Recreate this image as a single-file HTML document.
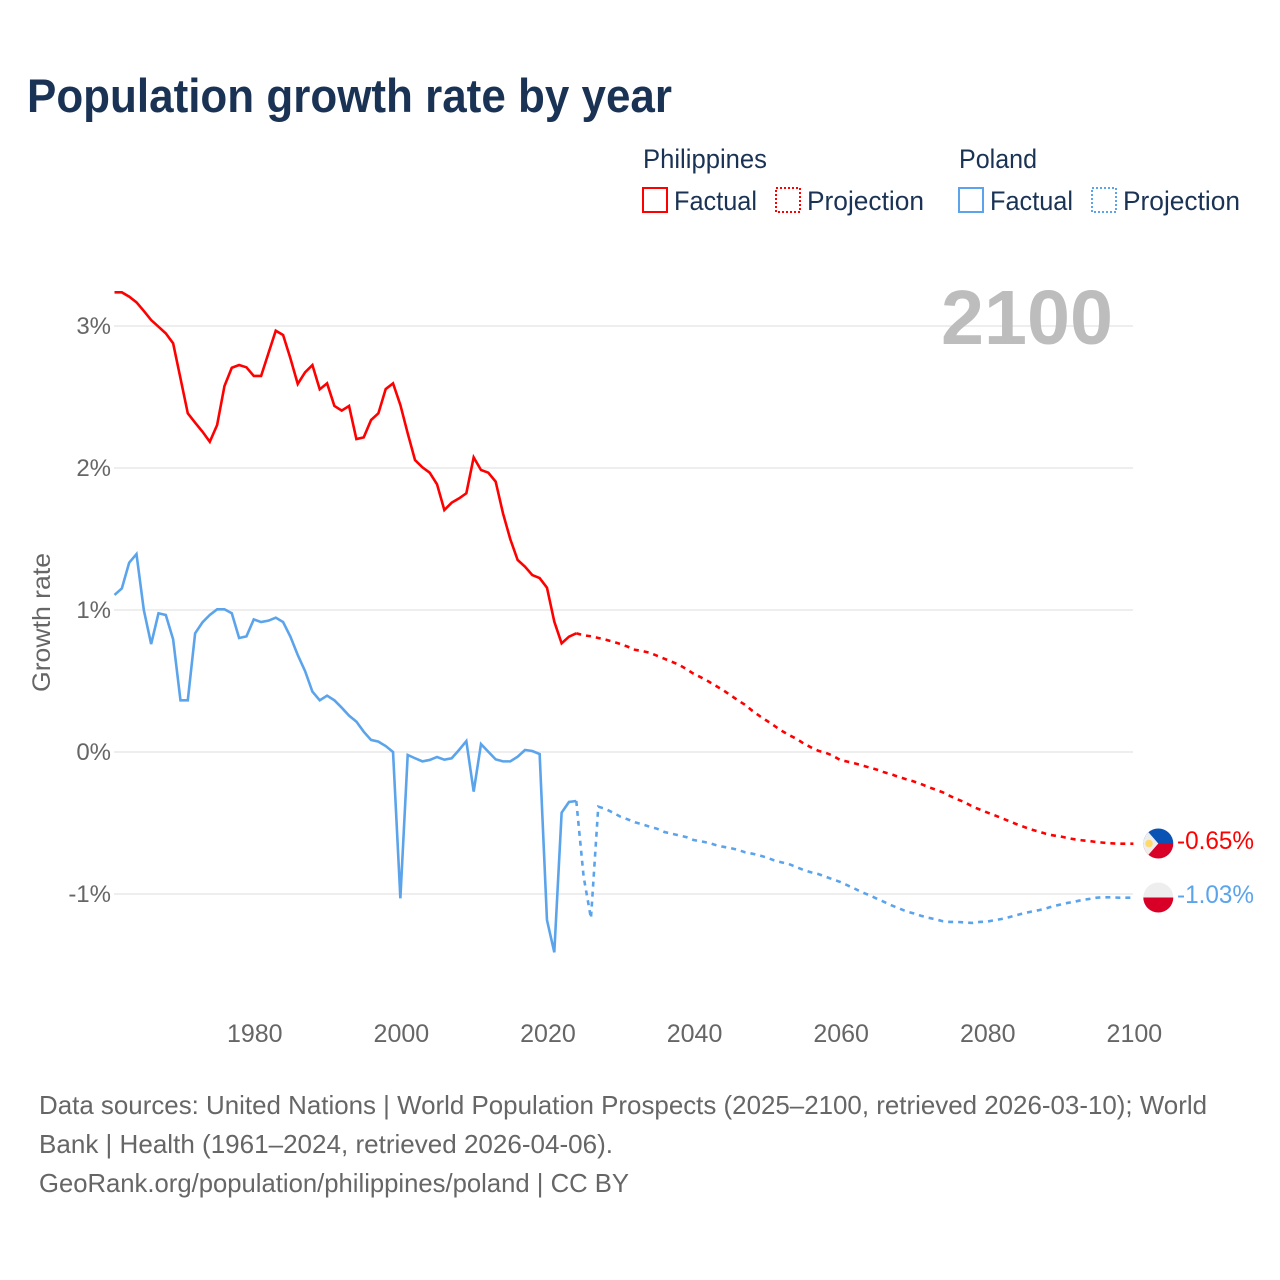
<!DOCTYPE html>
<html lang="en">
<head>
<meta charset="utf-8">
<title>Population growth rate by year</title>
<style>
html,body{margin:0;padding:0;background:#fff;}
svg{display:block;font-family:"Liberation Sans",sans-serif;}
</style>
</head>
<body>
<svg id="chart" width="1280" height="1280" viewBox="0 0 1280 1280" xmlns="http://www.w3.org/2000/svg">
  <rect width="1280" height="1280" fill="#fff"/>
  <text x="27" y="112" font-size="47" font-weight="700" fill="#1a3355" textLength="645" lengthAdjust="spacingAndGlyphs">Population growth rate by year</text>

  <g fill="#1a3355" font-size="27">
    <text x="643" y="168" textLength="124" lengthAdjust="spacingAndGlyphs">Philippines</text>
    <text x="959" y="168" textLength="78" lengthAdjust="spacingAndGlyphs">Poland</text>
    <rect x="643" y="188" width="24" height="24" fill="none" stroke="#ff0000" stroke-width="2"/>
    <text x="674" y="210" textLength="83" lengthAdjust="spacingAndGlyphs">Factual</text>
    <rect x="776" y="188" width="24" height="24" fill="none" stroke="#ff0000" stroke-width="2" stroke-dasharray="2 2"/>
    <text x="807" y="210" textLength="117" lengthAdjust="spacingAndGlyphs">Projection</text>
    <rect x="959" y="188" width="24" height="24" fill="none" stroke="#5ba4ec" stroke-width="2"/>
    <text x="990" y="210" textLength="83" lengthAdjust="spacingAndGlyphs">Factual</text>
    <rect x="1092" y="188" width="24" height="24" fill="none" stroke="#5ba4ec" stroke-width="2" stroke-dasharray="2 2"/>
    <text x="1123" y="210" textLength="117" lengthAdjust="spacingAndGlyphs">Projection</text>
  </g>

  <g id="grid"></g>
  <text x="941" y="344" font-size="77" font-weight="700" fill="#bdbdbd" textLength="172" lengthAdjust="spacingAndGlyphs">2100</text>
  <g id="yticks" font-size="24" fill="#666"></g>
  <g id="xticks" font-size="25" fill="#666"></g>
  <text transform="translate(50,622.500) rotate(-90)" text-anchor="middle" font-size="25" fill="#666" textLength="139" lengthAdjust="spacingAndGlyphs">Growth rate</text>
  <g id="series"></g>

  <g>
    <clipPath id="ph-clip"><circle cx="1158.300" cy="843.500" r="15"/></clipPath>
    <g clip-path="url(#ph-clip)">
      <rect x="1143" y="828" width="31" height="15.500" fill="#0a52b4"/>
      <rect x="1143" y="843.500" width="31" height="16" fill="#d80027"/>
      <polygon points="1143,826 1143,861 1158.300,843.500" fill="#eeeeee"/>
      <circle cx="1149" cy="843.500" r="3.800" fill="#ffda6a"/>
    </g>
  </g>
  <g>
    <clipPath id="pl-clip"><circle cx="1158.300" cy="897.500" r="15"/></clipPath>
    <g clip-path="url(#pl-clip)">
      <rect x="1143" y="882" width="31" height="15.500" fill="#eeeeee"/>
      <rect x="1143" y="897.500" width="31" height="16" fill="#d80027"/>
    </g>
  </g>
  <text x="1177" y="849" font-size="25" fill="#ff0000" textLength="77" lengthAdjust="spacingAndGlyphs">-0.65%</text>
  <text x="1177" y="903" font-size="25" fill="#5ba4ec" textLength="77" lengthAdjust="spacingAndGlyphs">-1.03%</text>

  <g font-size="26" fill="#666">
    <text x="39" y="1114" textLength="1168" lengthAdjust="spacingAndGlyphs">Data sources: United Nations | World Population Prospects (2025–2100, retrieved 2026-03-10); World</text>
    <text x="39" y="1153" textLength="574" lengthAdjust="spacingAndGlyphs">Bank | Health (1961–2024, retrieved 2026-04-06).</text>
    <text x="39" y="1192" textLength="590" lengthAdjust="spacingAndGlyphs">GeoRank.org/population/philippines/poland | CC BY</text>
  </g>
</svg>
<script>
const xTickYears = [1980,2000,2020,2040,2060,2080,2100];
const yTickValues = [3,2,1,0,-1];
const factualStartYear = 1961;
const projectionStartYear = 2024;
const philippinesFactual = [3.237,3.237,3.207,3.167,3.106,3.042,2.995,2.948,2.878,2.632,2.385,2.319,2.256,2.185,2.303,2.577,2.706,2.725,2.709,2.648,2.648,2.808,2.967,2.937,2.772,2.592,2.674,2.725,2.554,2.596,2.437,2.404,2.437,2.204,2.216,2.338,2.385,2.556,2.596,2.444,2.244,2.056,2.005,1.967,1.885,1.704,1.756,1.786,1.822,2.075,1.986,1.967,1.904,1.681,1.498,1.352,1.305,1.246,1.225,1.157,0.918,0.765,0.812,0.836];
const polandFactual = [1.106,1.152,1.333,1.394,1.0,0.76,0.977,0.965,0.793,0.364,0.364,0.836,0.913,0.965,1.005,1.005,0.977,0.803,0.814,0.934,0.915,0.925,0.946,0.915,0.812,0.683,0.57,0.425,0.364,0.397,0.364,0.312,0.256,0.214,0.143,0.085,0.073,0.042,0.0,-1.03,-0.021,-0.044,-0.066,-0.056,-0.035,-0.054,-0.044,0.014,0.077,-0.279,0.056,0.002,-0.052,-0.066,-0.066,-0.033,0.014,0.007,-0.014,-1.183,-1.411,-0.427,-0.352,-0.345];
const philippinesProjection = [0.836,0.822,0.815,0.803,0.791,0.777,0.761,0.742,0.72,0.711,0.699,0.678,0.657,0.636,0.615,0.585,0.551,0.526,0.498,0.467,0.437,0.401,0.366,0.333,0.291,0.254,0.22,0.185,0.15,0.12,0.094,0.061,0.033,0.009,-0.005,-0.026,-0.056,-0.068,-0.08,-0.094,-0.11,-0.124,-0.143,-0.157,-0.176,-0.192,-0.207,-0.225,-0.246,-0.265,-0.284,-0.31,-0.333,-0.354,-0.383,-0.404,-0.425,-0.444,-0.465,-0.486,-0.507,-0.526,-0.545,-0.559,-0.575,-0.587,-0.594,-0.606,-0.615,-0.622,-0.627,-0.634,-0.639,-0.643,-0.646,-0.646,-0.646];
const polandProjection = [-0.345,-0.878,-1.171,-0.385,-0.401,-0.427,-0.455,-0.474,-0.495,-0.509,-0.526,-0.54,-0.563,-0.575,-0.587,-0.599,-0.62,-0.629,-0.639,-0.655,-0.667,-0.676,-0.688,-0.706,-0.716,-0.728,-0.744,-0.763,-0.777,-0.789,-0.81,-0.831,-0.847,-0.859,-0.878,-0.897,-0.915,-0.939,-0.963,-0.988,-1.009,-1.033,-1.056,-1.08,-1.101,-1.122,-1.136,-1.153,-1.167,-1.178,-1.192,-1.197,-1.197,-1.2,-1.204,-1.197,-1.195,-1.185,-1.176,-1.164,-1.15,-1.136,-1.125,-1.115,-1.103,-1.087,-1.075,-1.063,-1.054,-1.042,-1.035,-1.026,-1.023,-1.023,-1.026,-1.026,-1.026];

const NS = 'http://www.w3.org/2000/svg';
function xScale(year){ return 114.5 + (year - 1961) * 7.33; }
function yScale(v){ return 752 - v * 142; }
function pathFor(values, startYear){
  return values.map(function(v,i){
    return (i ? 'L' : 'M') + xScale(startYear + i).toFixed(2) + ' ' + yScale(v).toFixed(2);
  }).join(' ');
}
const gridG = document.getElementById('grid');
const yG = document.getElementById('yticks');
const xG = document.getElementById('xticks');
const seriesG = document.getElementById('series');

yTickValues.forEach(function(v){
  const line = document.createElementNS(NS,'line');
  line.setAttribute('x1', 114);
  line.setAttribute('x2', 1133);
  line.setAttribute('y1', yScale(v));
  line.setAttribute('y2', yScale(v));
  line.setAttribute('stroke', '#eeeeee');
  line.setAttribute('stroke-width', 2);
  
  
  gridG.appendChild(line);
  const t = document.createElementNS(NS,'text');
  t.setAttribute('x', 111);
  t.setAttribute('y', yScale(v) + 8);
  t.setAttribute('text-anchor', 'end');
  t.textContent = v + '%';
  
  
  yG.appendChild(t);
});
xTickYears.forEach(function(year){
  const t = document.createElementNS(NS,'text');
  t.setAttribute('x', xScale(year) + 1);
  t.setAttribute('y', 1042);
  t.setAttribute('text-anchor', 'middle');
  t.textContent = String(year);
  
  
  xG.appendChild(t);
});

function addLine(values, startYear, color, dashed, name){
  const p = document.createElementNS(NS,'path');
  p.setAttribute('d', pathFor(values, startYear));
  p.setAttribute('fill', 'none');
  p.setAttribute('stroke', color);
  p.setAttribute('stroke-width', 2.6);
  p.setAttribute('stroke-linejoin', 'miter');
  if (dashed) p.setAttribute('stroke-dasharray', '5 5');
  
  
  seriesG.appendChild(p);
}
addLine(polandFactual, factualStartYear, '#5ba4ec', false, 'line-poland-factual');
addLine(polandProjection, projectionStartYear, '#5ba4ec', true, 'line-poland-projection');
addLine(philippinesFactual, factualStartYear, '#ff0000', false, 'line-philippines-factual');
addLine(philippinesProjection, projectionStartYear, '#ff0000', true, 'line-philippines-projection');
</script>
</body>
</html>
